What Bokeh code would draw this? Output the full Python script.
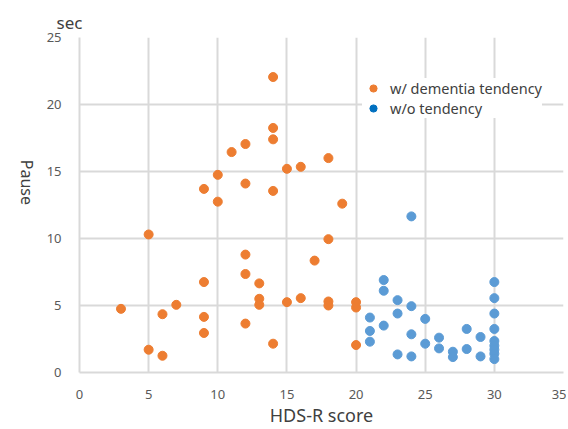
import math
from bokeh.plotting import figure
from bokeh.models import Range1d, Legend, LegendItem, FixedTicker, ColumnDataSource, Title
from bokeh.embed import file_html
from bokeh.resources import INLINE

# data
dementia_x = [3, 5, 5, 6, 6, 7, 9, 9, 9, 9, 10, 10, 11, 12, 12, 12, 12, 12, 13, 13, 13,
              14, 14, 14, 14, 14, 15, 15, 16, 16, 17, 18, 18, 18, 18, 19, 20, 20, 20]
dementia_y = [4.75, 10.3, 1.7, 4.35, 1.25, 5.05, 13.7, 6.75, 4.15, 2.95, 14.75, 12.75, 16.45,
              17.05, 14.1, 8.8, 7.35, 3.65, 6.65, 5.5, 5.05, 22.05, 18.25, 17.4, 13.55, 2.15,
              15.2, 5.25, 15.35, 5.55, 8.35, 16.0, 9.95, 5.3, 5.0, 12.6, 5.25, 4.85, 2.05]
normal_x = [21, 21, 21, 22, 22, 22, 23, 23, 23, 24, 24, 24, 24, 25, 25, 26, 26, 27, 27,
            28, 28, 29, 29, 30, 30, 30, 30, 30, 30, 30, 30, 30]
normal_y = [4.1, 3.1, 2.3, 6.9, 6.1, 3.5, 5.4, 4.4, 1.35, 11.65, 4.95, 2.85, 1.2, 4.0, 2.15,
            2.6, 1.8, 1.55, 1.15, 3.25, 1.75, 2.65, 1.2, 6.75, 5.55, 4.4, 3.25, 2.35, 2.0,
            1.7, 1.4, 1.0]
x_ticks = [0, 5, 10, 15, 20, 25, 30, 35]
y_ticks = [0, 5, 10, 15, 20, 25]
legend_labels = ["w/ dementia tendency", "w/o tendency"]
x_title = "HDS-R score"
y_title = "Pause"
y_unit = "sec"

ORANGE = "#ED7D31"
BLUE = "#5B9BD5"
LEG_BLUE = "#0070C0"
GRID = "#D9D9D9"
TXT = "#404040"
TICK = "#595959"
FONT = "Noto Sans"

p = figure(width=566, height=429, output_backend="svg", toolbar_location=None,
           x_range=Range1d(0, 35), y_range=Range1d(0, 25),
           min_border_left=79, min_border_right=3, min_border_top=37, min_border_bottom=56)
p.outline_line_color = None
p.background_fill_color = "white"
p.border_fill_color = "white"

for ax, ticks in ((p.xaxis[0], x_ticks), (p.yaxis[0], y_ticks)):
    ax.ticker = FixedTicker(ticks=ticks)
    ax.axis_line_color = GRID
    ax.axis_line_width = 2
    ax.major_tick_line_color = None
    ax.minor_tick_line_color = None
    ax.major_label_text_color = TICK
    ax.major_label_text_font = FONT
    ax.major_label_text_font_size = "13px"
    ax.major_label_text_line_height = 1.0
    ax.axis_label_text_font = FONT
    ax.axis_label_text_font_style = "normal"
    ax.axis_label_text_color = TXT
    ax.axis_label_text_line_height = 1.0
p.xaxis[0].major_label_standoff = 11
p.yaxis[0].major_label_standoff = 12

p.xaxis[0].axis_label = x_title
p.xaxis[0].axis_label_text_font_size = "18px"
p.xaxis[0].axis_label_standoff = 1

p.yaxis[0].axis_label = y_title
p.yaxis[0].axis_label_text_font_size = "16px"
p.yaxis[0].axis_label_standoff = 17
try:
    p.yaxis[0].axis_label_orientation = -math.pi / 2
except Exception:
    pass

for g, ticks in ((p.xgrid[0], x_ticks), (p.ygrid[0], y_ticks)):
    g.ticker = FixedTicker(ticks=ticks)
    g.grid_line_color = GRID
    g.grid_line_width = 2

p.scatter(dementia_x, dementia_y, size=9, color=ORANGE, line_color=ORANGE)
p.scatter(normal_x, normal_y, size=9, color=BLUE, line_color=BLUE)

# legend-only renderers (nothing drawn in the plot)
nan = float("nan")
r1 = p.scatter("x", "y", source=ColumnDataSource(data=dict(x=[nan], y=[nan])), size=9, color=ORANGE)
r2 = p.scatter("x", "y", source=ColumnDataSource(data=dict(x=[nan], y=[nan])), size=9, color=LEG_BLUE)
legend = Legend(items=[LegendItem(label=legend_labels[0], renderers=[r1]),
                       LegendItem(label=legend_labels[1], renderers=[r2])],
                location=(283, 254), orientation="vertical",
                glyph_width=22, glyph_height=18, label_height=18, spacing=-2,
                padding=6, margin=0, label_standoff=6,
                label_text_font=FONT, label_text_font_size="14.5px",
                label_text_color=TXT, border_line_color=None,
                background_fill_color="white", background_fill_alpha=1.0)
p.add_layout(legend, "center")

p.add_layout(Title(text=y_unit, align="left", offset=-23, text_font=FONT,
                   text_font_size="17px", text_font_style="normal", text_color=TXT,
                   standoff=7), "above")

open("out.html", "w").write(file_html(p, INLINE))
